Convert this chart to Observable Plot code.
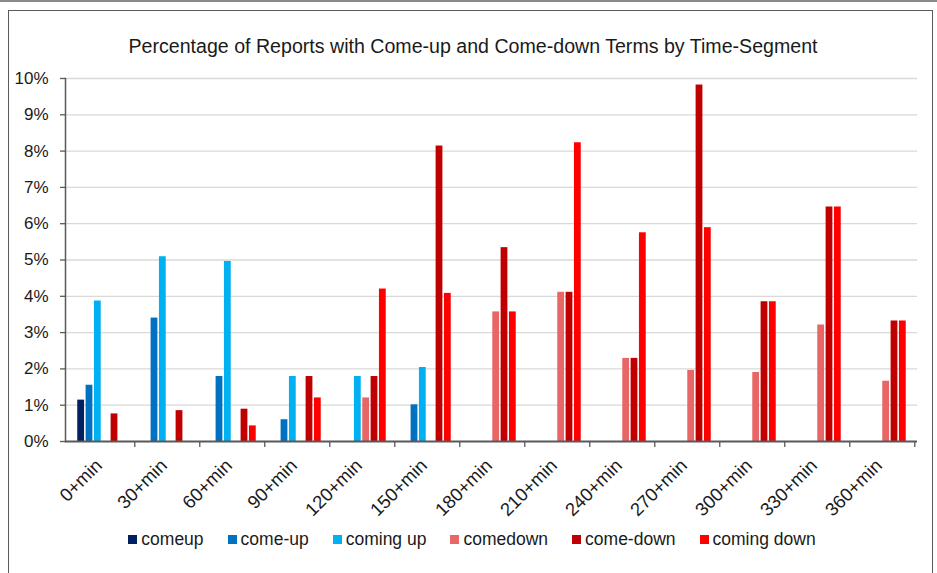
<!DOCTYPE html>
<html>
<head>
<meta charset="utf-8">
<script src="https://cdn.jsdelivr.net/npm/d3@7"></script>
<script src="https://cdn.jsdelivr.net/npm/@observablehq/plot@0.6"></script>
<style>
  html, body { margin: 0; padding: 0; background: #fff; }
  #wrap { position: relative; width: 937px; height: 573px; overflow: hidden; font-family: "Liberation Sans", Arial, sans-serif; }
  #topline { position: absolute; left: 0; top: 0; width: 937px; height: 2px; background: #8a8a8a; }
  #frame { position: absolute; left: 8px; top: 10px; width: 925px; height: 575px; border: 1.5px solid #5a5a5a; box-sizing: border-box; }
  #title { position: absolute; left: 0; width: 946px; top: 35px; text-align: center; font-size: 19.6px; color: #1a1a1a; }
  #chart { position: absolute; left: 0; top: 65px; }
  #legend { position: absolute; left: 0; width: 944px; top: 529px; display: flex; justify-content: center; gap: 24px; font-size: 17.5px; color: #1a1a1a; }
  #legend .item { display: flex; align-items: center; }
  #legend .sw { width: 9px; height: 9px; margin-right: 4px; }
</style>
</head>
<body>
<div id="wrap">
  <div id="topline"></div>
  <div id="frame"></div>
  <div id="title">Percentage of Reports with Come-up and Come-down Terms by Time-Segment</div>
  <div id="chart"></div>
  <div id="legend"></div>
</div>
<script>
const categories = ["0+min","30+min","60+min","90+min","120+min","150+min","180+min","210+min","240+min","270+min","300+min","330+min","360+min"];
const seriesNames = ["comeup","come-up","coming up","comedown","come-down","coming down"];
const seriesColors = ["#002060","#0070C0","#00B0F0","#E86666","#C00000","#FF0000"];
const comeupValues      = [1.14, null, null, null, null, null, null, null, null, null, null, null, null];
const comeUpValues      = [1.55, 3.40, 1.79, 0.60, null, 1.01, null, null, null, null, null, null, null];
const comingUpValues    = [3.87, 5.09, 4.96, 1.79, 1.79, 2.04, null, null, null, null, null, null, null];
const comedownValues    = [null, null, null, null, 1.20, null, 3.57, 4.11, 2.29, 1.96, 1.90, 3.21, 1.66];
const comeDownValues    = [0.76, 0.85, 0.89, 1.79, 1.79, 8.14, 5.34, 4.11, 2.29, 9.82, 3.85, 6.46, 3.32];
const comingDownValues  = [null, null, 0.43, 1.20, 4.20, 4.08, 3.57, 8.23, 5.75, 5.89, 3.85, 6.46, 3.32];
const yTicks = [0,1,2,3,4,5,6,7,8,9,10];

const seriesValues = [comeupValues, comeUpValues, comingUpValues, comedownValues, comeDownValues, comingDownValues];

const W = 937, ML = 65, MR = 20;
const step = (W - ML - MR) / categories.length;
const gapHalf = step * 0.1185;
const slot = (step - 2 * gapHalf) / seriesNames.length;

const barMarks = seriesNames.map((name, i) => {
  const rows = categories.map((c, j) => ({cat: c, series: name, value: seriesValues[i][j]}))
    .filter(d => d.value != null);
  return Plot.barY(rows, {
    x: "cat", y: "value", fill: seriesColors[i],
    insetLeft: gapHalf + i * slot + 0.5,
    insetRight: step - gapHalf - (i + 1) * slot + 0.5
  });
});

const chart = Plot.plot({
  width: W, height: 461,
  marginLeft: ML, marginRight: MR, marginTop: 13, marginBottom: 85,
  x: {domain: categories, padding: 0, label: null},
  y: {domain: [0, 10], label: null},
  style: {fontFamily: "'Liberation Sans', Arial, sans-serif", fontSize: "16px", color: "#1a1a1a", background: "transparent"},
  marks: [
    Plot.gridY(yTicks.slice(1), {stroke: "#d9d9d9", strokeOpacity: 1, strokeWidth: 1.3}),
    ...barMarks,
    Plot.axisY(yTicks, {tickFormat: d => d + "%", tickSize: 5, tickPadding: 12, fontSize: 17, stroke: "#595959", strokeWidth: 1.3, label: null}),
    Plot.frame({anchor: "left", stroke: "#595959", strokeWidth: 1.5}),
    Plot.ruleY([0], {stroke: "#595959", strokeWidth: 1.8}),
    Plot.axisX({tickSize: 6, tickFormat: () => "", dx: step / 2, stroke: "#595959", strokeWidth: 1.3, label: null}),
    Plot.axisX({tickSize: 0, tickRotate: -45, tickPadding: 21, dx: -3, fontSize: 18.5, label: null})
  ]
});
document.getElementById("chart").appendChild(chart);

const legend = document.getElementById("legend");
seriesNames.forEach((n, i) => {
  const it = document.createElement("div");
  it.className = "item";
  const sw = document.createElement("div");
  sw.className = "sw";
  sw.style.background = seriesColors[i];
  const tx = document.createElement("span");
  tx.textContent = n;
  it.appendChild(sw); it.appendChild(tx);
  legend.appendChild(it);
});
</script>
</body>
</html>
